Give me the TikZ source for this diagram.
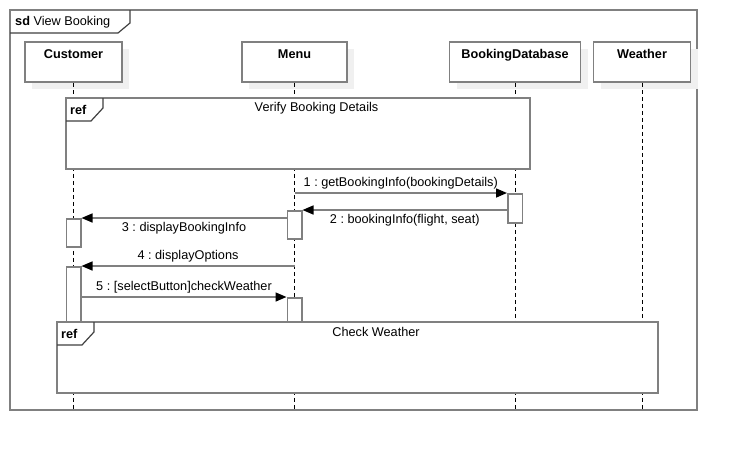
\documentclass[tikz,border=0pt]{standalone}
\usepackage{fontspec}
\setmainfont{Liberation Sans}
\usetikzlibrary{positioning,shadows,arrows.meta}
\frenchspacing

\newcommand{\dgfont}{\fontsize{12.7}{15}\selectfont}
\tikzset{
  head/.style={draw=gray,line width=1.5pt,fill=white,minimum height=40pt,
    text height=9pt,text depth=17pt,font=\dgfont\bfseries,
    drop shadow={shadow xshift=7pt,shadow yshift=-7pt,fill=black!6,opacity=1}},
  life/.style={draw=black,line width=0.8pt,dash pattern=on 4pt off 3pt},
  act/.style={draw=gray,line width=1.5pt,fill=white,minimum width=14.5pt,inner sep=0pt,anchor=north},
  msg/.style={line width=1.5pt,-{Triangle[length=11pt,width=9pt,color=black]},
    every edge/.style={draw=gray}},
  reffrm/.style={draw=gray,line width=1.5pt,fill=white,inner sep=0pt,outer sep=0pt,
    anchor=north west,minimum height=71pt},
  tabline/.style={draw=black!75,line width=1.2pt},
}

\begin{document}
\begin{tikzpicture}[x=1pt,y=-1pt,on grid,font=\dgfont]
  \useasboundingbox (0,0) rectangle (738,453);
  % frame
  \node[draw=gray,line width=1.5pt,fill=white,inner sep=0pt,outer sep=0pt,anchor=north west,
        minimum width=687pt,minimum height=400pt] (sd) at (10,10) {};
  \draw[tabline] (sd.north west) ++(120,0) -- ++(0,13) -- ++(-12,10) -- ++(-108,0);
  \node[anchor=base west,inner sep=0pt] (sdname) at (15,25) {\textbf{sd}\ View Booking};
  % lifeline heads
  \node[head,minimum width=97pt]  (cust)                       at (73.5,62) {Customer};
  \node[head,minimum width=105pt] (menu) [right=221pt of cust]   {Menu};
  \node[head,minimum width=131pt] (bdb)  [right=220.5pt of menu] {BookingDatabase};
  \node[head,minimum width=97pt]  (wthr) [right=127pt of bdb]    {Weather};
  \coordinate (bottom) at (0,411);
  \foreach \n in {cust,menu,bdb,wthr}
    \draw[life] (\n.south) -- (\n.south |- bottom);
  % ref: verify booking details
  \node[reffrm,minimum width=464pt] (vbd) at (66,98) {};
  \draw[tabline] (vbd.north west) ++(37,0) -- ++(0,10) -- ++(-12,13) -- ++(-25,0);
  \node[anchor=base west,inner sep=0pt,font=\dgfont\bfseries] (vbdref) at (70,114) {ref};
  \node[inner sep=0pt] (vbdtitle) at (316.5,108) {Verify Booking Details};
  % activations
  \node[act,minimum height=29pt] (bd1) at (bdb |- 0,193)  {};
  \node[act,minimum height=28pt] (ma1) at (menu |- 0,210) {};
  \node[act,minimum height=28pt] (ca1) at (cust |- 0,218) {};
  \node[act,minimum height=56pt] (ca2) at (cust |- 0,266) {};
  \node[act,minimum height=25pt] (ma2) at (menu |- 0,297) {};
  % messages
  \path[msg]
    (menu |- bd1.north) edge node[above] {1 : getBookingInfo(bookingDetails)} (bd1.north west)
    (bd1.west |- ma1.north) edge node[below] {2 : bookingInfo(flight, seat)} (ma1.north east)
    (ma1.west |- ca1.north) edge node[below] {3 : displayBookingInfo} (ca1.north east)
    (menu |- ca2.north) edge node[above] {4 : displayOptions} (ca2.north east)
    (ca2.east |- ma2.north) edge node[above] {5 : [selectButton]checkWeather} (ma2.north west);
  % ref: check weather
  \node[reffrm,minimum width=601pt] (chkw) at (57,322) {};
  \draw[tabline] (chkw.north west) ++(37,0) -- ++(0,10) -- ++(-12,13) -- ++(-25,0);
  \node[anchor=base west,inner sep=0pt,font=\dgfont\bfseries] (chkwref) at (61,338) {ref};
  \node[inner sep=0pt] (chkwtitle) at (376,332) {Check Weather};
\end{tikzpicture}
\end{document}
